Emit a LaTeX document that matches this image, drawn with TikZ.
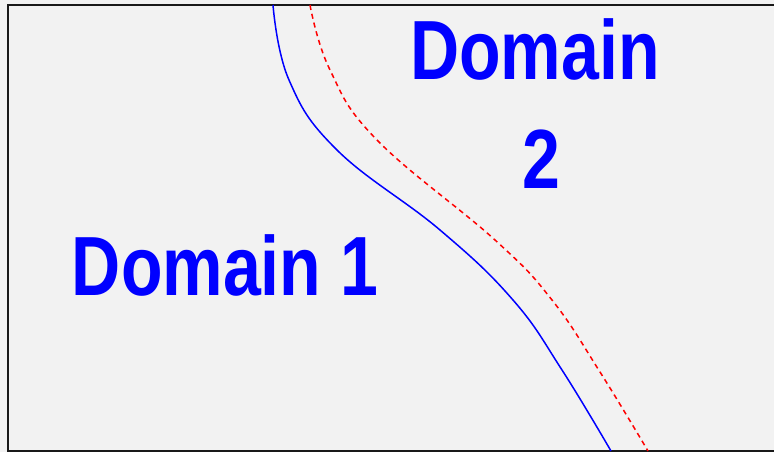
\documentclass[tikz,border=0pt]{standalone}
\usepackage{fontspec}
\setmainfont{Liberation Sans}
\usetikzlibrary{positioning}
\definecolor{bggray}{RGB}{242,242,242}

\begin{document}
\begin{tikzpicture}[x=1pt, y=-1pt,
    domlabel/.style={text=blue, font=\fontsize{84}{108}\selectfont\bfseries, xscale=0.81, inner sep=0pt}]
    % frame
    \useasboundingbox (0,0) rectangle (774,452);
    \fill[bggray] (0,0) rectangle (774,452);
    \begin{scope}
        \clip (0,0) rectangle (774,452);
        \draw[line width=2.2pt, black!90] (8,5) rectangle (790,451);
    \end{scope}

    % interface
    \draw[blue, line width=1.5pt] plot[smooth, tension=0.7] coordinates
        {(273,5) (289,80) (337,150) (440,230) (513,300) (562,370) (611,451)};
    % shifted interface
    \draw[red, line width=1.5pt, dash pattern=on 5pt off 4pt] plot[smooth, tension=0.7] coordinates
        {(310,5) (330,70) (377,140) (495,240) (552,300) (600,372) (648,451)};

    % labels
    \node[domlabel, anchor=base] (dom1) at (225,295) {Domain 1};
    \node[domlabel, anchor=base] (dom2a) at (535,80) {Domain};
    \node[domlabel, anchor=base] (dom2b) at (541,188) {2};
\end{tikzpicture}
\end{document}
